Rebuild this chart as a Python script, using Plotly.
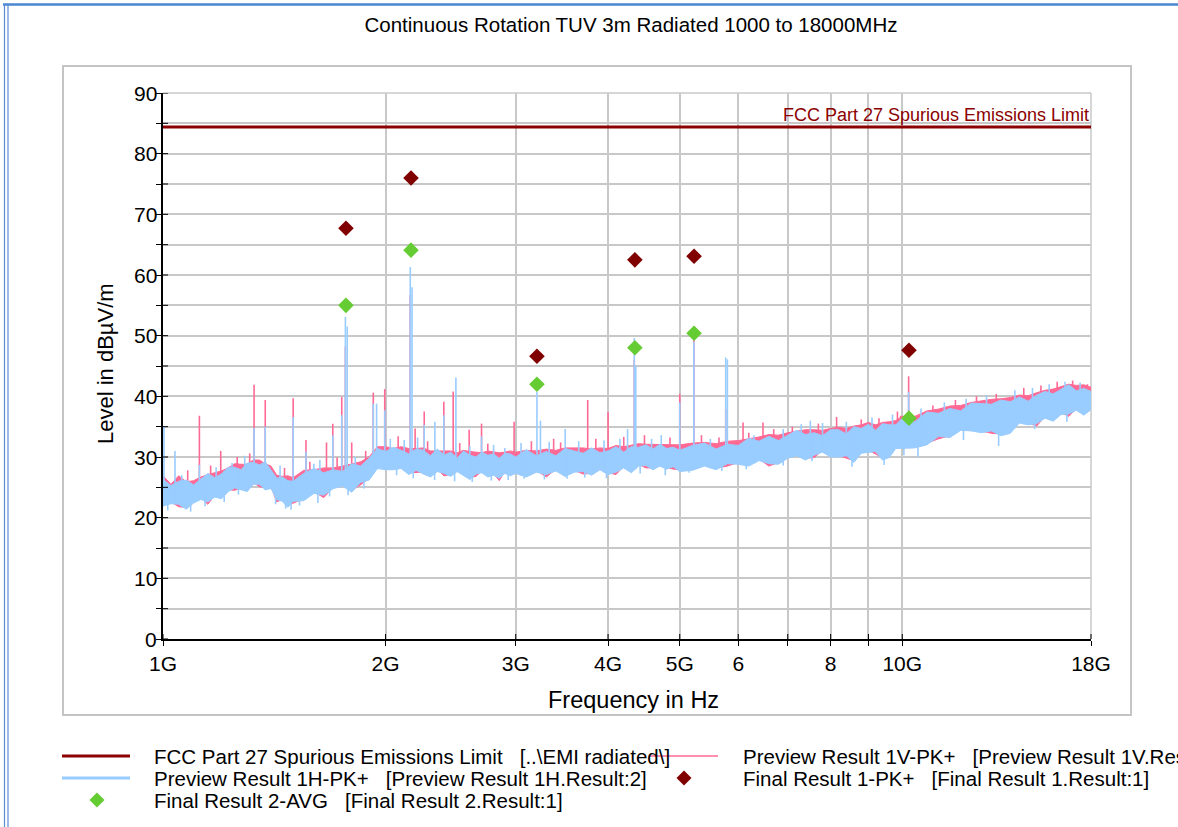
import math
import numpy as np
import plotly.graph_objects as go

# ---------------- data ----------------
# Sweep columns (MHz) for the preview scans
FREQ_MHZ = [
    1000, 1025, 1050, 1075, 1100, 1125, 1150, 1175, 1200, 1225, 1250, 1275, 1300, 1325, 1350, 1375, 1400, 1425, 1450, 1475, 1500,
    1550, 1600, 1650, 1700, 1750, 1800, 1850, 1900, 1950, 2000,
    2050, 2100, 2150, 2200, 2250, 2300, 2350, 2400, 2450, 2500, 2550, 2600, 2650, 2700, 2750, 2800, 2850, 2900, 2950, 3000,
    3100, 3200, 3300, 3400, 3500, 3600, 3700, 3800, 3900, 4000, 4100, 4200, 4300, 4400, 4500, 4600, 4700, 4800, 4900, 5000,
    5200, 5400, 5600, 5800, 6000, 6200, 6400, 6600, 6800, 7000, 7200, 7400, 7600, 7800, 8000, 8200, 8400, 8600, 8800, 9000, 9200, 9400, 9600, 9800, 10000,
    10400, 10800, 11200, 11600, 12000, 12400, 12800, 13200, 13600, 14000, 14400, 14800, 15200, 15600, 16000, 16400, 16800, 17200, 17600, 18000,
]

# Preview Result 1H-PK+ : per-column max / min level (dBuV/m)
H_HI = [
    26.3, 25.3, 26.0, 26.2, 25.4, 26.3, 27.3, 26.6, 27.2, 28.3, 28.3, 27.9, 29.0, 29.1, 28.7, 29.2, 27.8, 26.5, 26.7, 26.1, 26.0,
    27.3, 28.1, 27.4, 27.9, 27.6, 28.9, 28.5, 29.8, 31.4, 30.9,
    31.6, 31.1, 30.5, 31.3, 31.1, 30.2, 31.3, 30.3, 30.8, 29.8, 31.0, 30.3, 30.0, 30.8, 30.3, 30.5, 29.8, 30.6, 30.5, 30.0,
    31.2, 30.2, 30.9, 30.2, 31.4, 31.0, 30.6, 31.5, 30.7, 31.0, 31.7, 30.8, 31.7, 31.6, 32.0, 31.3, 32.1, 31.4, 31.6, 31.1,
    31.9, 32.3, 31.3, 32.1, 31.9, 33.1, 32.6, 33.4, 32.7, 33.6, 34.4, 33.7, 34.0, 33.5, 34.5, 34.5, 33.8, 35.0, 34.7, 35.4, 34.4, 35.5, 35.3, 35.3, 36.4,
    35.8, 37.4, 37.2, 38.0, 37.6, 38.9, 38.8, 38.7, 39.4, 39.1, 39.9, 39.2, 40.2, 40.8, 40.4, 41.1, 41.9, 40.9, 41.3, 40.8,
]
H_LO = [
    21.9, 22.3, 22.2, 21.4, 22.4, 23.0, 22.6, 23.4, 23.1, 24.3, 24.9, 24.6, 24.3, 25.5, 25.5, 24.6, 24.8, 23.0, 22.7, 21.7, 22.7,
    22.8, 24.0, 23.7, 24.8, 25.2, 24.2, 25.8, 26.2, 28.1, 27.9,
    27.9, 28.1, 27.1, 27.8, 27.2, 26.7, 27.6, 27.3, 26.8, 27.6, 26.9, 26.3, 27.2, 27.4, 26.7, 27.0, 26.5, 27.3, 26.9, 27.3,
    26.7, 27.5, 27.1, 27.7, 26.8, 27.5, 27.6, 27.0, 27.9, 27.1, 27.5, 28.2, 27.4, 28.5, 28.6, 27.9, 28.5, 28.0, 28.4, 27.6,
    27.8, 28.5, 27.9, 28.9, 28.8, 28.5, 29.4, 28.9, 28.8, 29.8, 30.2, 29.5, 30.3, 30.8, 30.0, 30.0, 30.2, 29.1, 30.6, 30.8, 30.9, 29.5, 29.9, 31.4, 31.5,
    31.5, 32.0, 33.4, 33.2, 34.4, 34.3, 34.0, 34.3, 33.5, 33.9, 35.6, 35.3, 35.5, 36.4, 35.9, 37.0, 37.1, 37.7, 36.9, 37.8,
]

# Preview Result 1V-PK+ : per-column max / min level (dBuV/m)
V_HI = [
    26.9, 25.5, 26.9, 25.9, 26.1, 26.7, 27.1, 27.4, 27.7, 28.2, 28.9, 28.8, 28.8, 29.5, 29.5, 28.9, 28.5, 27.0, 26.8, 26.9, 26.6,
    27.8, 27.9, 28.2, 28.2, 28.5, 28.8, 29.2, 30.0, 31.7, 31.7,
    31.4, 31.7, 31.4, 31.4, 31.5, 31.0, 31.0, 31.0, 31.0, 30.7, 31.1, 30.9, 30.8, 30.7, 31.0, 30.8, 30.7, 30.8, 31.0, 30.8,
    31.1, 31.0, 31.3, 31.1, 31.5, 31.5, 31.5, 31.3, 31.5, 31.4, 31.9, 31.7, 32.0, 32.2, 32.1, 32.1, 32.0, 32.1, 32.0, 32.0,
    32.3, 32.4, 32.2, 32.6, 32.7, 33.0, 33.3, 33.7, 33.6, 34.0, 34.2, 34.5, 34.5, 34.4, 34.7, 34.9, 34.7, 35.1, 35.3, 35.7, 35.3, 35.7, 35.8, 36.0, 36.7,
    36.7, 37.6, 37.9, 38.4, 38.5, 39.0, 39.3, 39.5, 39.6, 39.8, 40.2, 40.1, 40.6, 41.0, 41.2, 41.6, 42.0, 41.8, 41.9, 41.5,
]
V_LO = [
    22.2, 22.6, 21.8, 21.7, 22.7, 23.3, 22.2, 23.7, 23.4, 24.6, 24.5, 24.9, 24.6, 25.8, 25.1, 24.9, 25.1, 22.6, 23.0, 22.0, 22.4,
    23.1, 24.3, 23.3, 25.1, 25.5, 24.5, 25.4, 26.5, 28.4, 28.2,
    28.2, 28.4, 27.4, 27.4, 27.5, 27.0, 27.9, 26.9, 27.1, 27.9, 27.2, 26.6, 26.8, 27.7, 27.0, 27.3, 26.1, 27.6, 27.2, 27.6,
    27.0, 27.8, 26.7, 28.0, 27.1, 27.8, 27.2, 27.3, 28.2, 27.4, 27.1, 28.5, 27.7, 28.8, 28.2, 28.2, 28.8, 28.3, 28.0, 27.9,
    28.1, 28.8, 28.2, 28.5, 29.1, 28.8, 29.7, 28.5, 29.1, 30.1, 30.5, 29.8, 29.9, 31.1, 30.3, 30.3, 29.8, 29.4, 30.9, 31.1, 30.5, 29.8, 30.2, 31.7, 31.8,
    31.8, 32.3, 33.0, 33.5, 34.7, 34.6, 34.3, 33.9, 33.8, 34.2, 35.9, 35.6, 35.1, 36.7, 36.2, 37.3, 36.7, 38.0, 37.2, 38.1,
]

# Narrow emissions rising out of the noise floor
H_SPIKE_MHZ = [1003, 1038, 1120, 1328, 1375, 1500, 1561, 1697, 1745, 1765, 1775, 1925, 1945, 1995, 2160, 2172, 2256,
               2332, 2398, 2490, 2697, 3205, 3240, 3500, 4250, 4340, 4360, 5000, 5225, 5770, 5800, 7510, 10200,
               1060, 1180, 1240, 1290, 1440, 1600, 1630, 1820, 2030, 2120, 2210, 2600, 2800, 2900, 3050, 3330,
               3650, 3950, 4150, 4580, 4720, 5500, 6300, 6900, 7300, 7800, 8400, 9100, 9700, 10600, 11400, 12200,
               13000, 14200, 15000, 15800, 16600, 17400]
H_SPIKE_DB = [35.0, 31.0, 28.7, 34.8, 35.0, 36.6, 30.9, 33.6, 36.9, 53.1, 51.5, 38.8, 38.8, 37.7, 61.3, 58.0, 35.3,
              35.8, 36.9, 43.1, 33.4, 40.7, 36.0, 34.6, 34.6, 49.6, 45.0, 39.0, 49.0, 46.4, 46.1, 36.0, 40.7,
              27.0, 28.3, 29.0, 30.2, 28.6, 28.9, 29.5, 30.0, 33.0, 32.8, 33.2, 31.8, 32.0, 31.5, 32.3, 32.5,
              32.6, 32.7, 33.0, 33.0, 33.6, 33.0, 33.6, 34.6, 35.4, 35.6, 35.8, 36.5, 37.0, 38.0, 39.0, 39.6,
              40.2, 41.0, 41.4, 42.0, 42.4, 42.3]
V_SPIKE_MHZ = [1120, 1197, 1328, 1375, 1500, 1561, 1664, 1697, 1745, 1765, 1800, 1925, 1995, 2160, 2193, 2256, 2398,
               2469, 2595, 2697, 2985, 3376, 3754, 4000, 4340, 4352, 5000, 5225, 5770, 6090, 6480, 8150, 8500, 9950, 10200,
               1080, 1160, 1260, 1310, 1460, 1580, 1720, 1880, 2080, 2280, 2520, 2750, 3150, 3450, 3850, 4200,
               4480, 4850, 5350, 5650, 6200, 6700, 7100, 7700, 8800, 9300, 9850, 11000, 11800, 12600, 13400, 14600,
               15400, 16200, 17000, 17800]
V_SPIKE_DB = [36.8, 31.0, 41.9, 39.4, 39.7, 32.8, 32.4, 35.5, 39.9, 48.2, 32.4, 40.6, 41.2, 56.7, 34.7, 37.5, 39.1,
              40.8, 34.5, 35.5, 35.8, 33.0, 39.4, 37.4, 46.0, 37.1, 40.4, 51.5, 37.9, 35.7, 35.7, 36.6, 34.8, 36.8, 43.3,
              27.8, 28.6, 30.0, 30.6, 28.2, 29.2, 29.9, 31.0, 33.4, 32.6, 32.3, 32.2, 32.6, 32.4, 33.0, 33.3,
              33.6, 33.2, 33.6, 33.2, 34.0, 34.6, 35.0, 35.5, 36.2, 36.4, 37.5, 38.5, 39.4, 40.0, 40.4, 41.4,
              41.8, 42.4, 42.6, 42.0]

# Momentary drops below the noise floor (1H scan)
H_DIP_MHZ = [1015, 1090, 1140, 1210, 1265, 1420, 1465, 1490, 1530, 1620, 1680, 1780, 1870, 2070, 2180, 2330, 2480, 2620,
             2780, 2930, 3080, 3280, 3520, 3720, 3980, 4420, 4780, 5150, 5700, 6150, 6900, 7550, 8550, 9450, 10050,
             10500, 12100, 13500, 15100, 16700]
H_DIP_DB = [21.2, 21.0, 21.9, 22.6, 23.8, 22.2, 21.5, 21.3, 22.0, 22.4, 23.5, 23.7, 24.8, 27.0, 26.5, 26.2, 26.0, 25.9,
            26.1, 26.2, 26.4, 26.3, 26.4, 26.6, 26.5, 27.3, 27.0, 27.4, 27.7, 28.0, 28.6, 29.3, 28.4, 28.7, 30.3,
            30.0, 32.8, 31.8, 34.6, 35.8]

# Final measurements
FINAL_MHZ = [1768, 2165, 3205, 4348, 5228, 10210]
FINAL_PK = [67.7, 76.0, 46.6, 62.5, 63.1, 47.6]
FINAL_AVG = [55.0, 64.1, 42.0, 48.0, 50.4, 36.4]

# Limit
LIMIT_MHZ = [1000, 18000]
LIMIT_DB = [84.4, 84.4]

# Axis ticks
X_TICKS = [1000, 2000, 3000, 4000, 5000, 6000, 7000, 8000, 9000, 10000, 18000]
X_TICKTEXT = ["1G", "2G", "3G", "4G", "5G", "6", "", "8", "", "10G", "18G"]

for a, b in ((FREQ_MHZ, H_HI), (FREQ_MHZ, H_LO), (FREQ_MHZ, V_HI), (FREQ_MHZ, V_LO),
             (H_SPIKE_MHZ, H_SPIKE_DB), (V_SPIKE_MHZ, V_SPIKE_DB), (H_DIP_MHZ, H_DIP_DB)):
    assert len(a) == len(b), (len(a), len(b))

# ---------------- styles ----------------
DARK_RED = "#8B0000"
PK_RED = "#800000"
GREEN = "#66CC33"
PINK = "#FF6A95"
BLUE = "#99CCFF"
GRID = "#C8C8C8"
FONT = "Liberation Sans, Arial, Helvetica, sans-serif"

W, H = 1178, 827
ML, MR, MT, MB = 163, 87, 93, 188
PW, PH = W - ML - MR, H - MT - MB


def px_x(px):
    return (px - ML) / PW


def px_y(py):
    return (H - MB - py) / PH


def band(freq, lo, hi):
    xs = list(freq) + list(freq)[::-1]
    ys = list(hi) + list(lo)[::-1]
    return xs, ys


def strokes(freq, tip, col_f, col_edge):
    """Vertical strokes from the band edge (at each stroke's frequency) to its tip level."""
    base = np.interp(np.log10(freq), np.log10(col_f), col_edge)
    xs, ys = [], []
    for f, t, b in zip(freq, tip, base):
        xs += [f, f, None]
        ys += [float(b), t, None]
    return xs, ys


fig = go.Figure()

fig.add_trace(go.Scatter(x=LIMIT_MHZ, y=LIMIT_DB, mode="lines",
                         line=dict(color=DARK_RED, width=3), hoverinfo="skip", showlegend=False))

vx, vy = band(FREQ_MHZ, V_LO, V_HI)
fig.add_trace(go.Scatter(x=vx, y=vy, mode="lines", fill="toself", fillcolor=PINK,
                         line=dict(color=PINK, width=1), hoverinfo="skip", showlegend=False))
sx, sy = strokes(V_SPIKE_MHZ, V_SPIKE_DB, FREQ_MHZ, V_LO)
fig.add_trace(go.Scatter(x=sx, y=sy, mode="lines", line=dict(color=PINK, width=1.6),
                         hoverinfo="skip", showlegend=False))

hx, hy = band(FREQ_MHZ, H_LO, H_HI)
fig.add_trace(go.Scatter(x=hx, y=hy, mode="lines", fill="toself", fillcolor=BLUE,
                         line=dict(color=BLUE, width=1), hoverinfo="skip", showlegend=False))
sx, sy = strokes(H_SPIKE_MHZ, H_SPIKE_DB, FREQ_MHZ, H_LO)
dx, dy = strokes(H_DIP_MHZ, H_DIP_DB, FREQ_MHZ, H_HI)
fig.add_trace(go.Scatter(x=sx + dx, y=sy + dy, mode="lines", line=dict(color=BLUE, width=1.6),
                         hoverinfo="skip", showlegend=False))

fig.add_trace(go.Scatter(x=FINAL_MHZ, y=FINAL_PK, mode="markers",
                         marker=dict(symbol="diamond", size=12, color=PK_RED),
                         hoverinfo="skip", showlegend=False))
fig.add_trace(go.Scatter(x=FINAL_MHZ, y=FINAL_AVG, mode="markers",
                         marker=dict(symbol="diamond", size=12, color=GREEN),
                         hoverinfo="skip", showlegend=False))

shapes = []
annotations = []

# closing grid lines at the top and right of the plot area
shapes.append(dict(type="line", xref="paper", yref="paper", x0=0, x1=1, y0=1, y1=1,
                   line=dict(color=GRID, width=1.5), layer="below"))
shapes.append(dict(type="line", xref="paper", yref="paper", x0=1, x1=1, y0=0, y1=1,
                   line=dict(color=GRID, width=1.5), layer="below"))

# tick marks crossing into the plot area
for v in range(0, 91, 5):
    shapes.append(dict(type="line", xref="paper", yref="y", x0=0, x1=5 / PW, y0=v, y1=v,
                       line=dict(color="black", width=1)))
for f in X_TICKS:
    p = (math.log10(f) - 3) / math.log10(18)
    shapes.append(dict(type="line", xref="paper", yref="paper", x0=p, x1=p, y0=0, y1=5 / PH,
                       line=dict(color="black", width=1)))

# outer chart frame
shapes.append(dict(type="rect", xref="paper", yref="paper",
                   x0=px_x(63), x1=px_x(1131), y0=px_y(715), y1=px_y(66),
                   line=dict(color="#C4C4C4", width=2)))
# window border
shapes.append(dict(type="line", xref="paper", yref="paper", x0=px_x(3), x1=px_x(1178),
                   y0=px_y(4.5), y1=px_y(4.5), line=dict(color="#4A86D2", width=2.5)))
for bx in (4.5, 8):
    shapes.append(dict(type="line", xref="paper", yref="paper", x0=px_x(bx), x1=px_x(bx),
                       y0=px_y(4), y1=px_y(827), line=dict(color="#5A8CD4", width=1.2)))

# limit label
annotations.append(dict(xref="paper", yref="y", x=1, y=LIMIT_DB[0], xanchor="right", yanchor="bottom",
                        yshift=0, showarrow=False, text="FCC Part 27 Spurious Emissions Limit",
                        font=dict(family=FONT, size=18, color=DARK_RED)))

# axis titles
annotations.append(dict(xref="paper", yref="paper", x=px_x(633), y=px_y(700), xanchor="center",
                        yanchor="middle", showarrow=False, text="Frequency in Hz",
                        font=dict(family=FONT, size=23.5, color="black")))
annotations.append(dict(xref="paper", yref="paper", x=px_x(105), y=px_y(364), xanchor="center",
                        yanchor="middle", showarrow=False, text="Level in dBµV/m", textangle=-90,
                        font=dict(family=FONT, size=22, color="black")))

# y tick labels, set right against the axis ticks
for v in range(0, 91, 10):
    annotations.append(dict(xref="paper", yref="y", x=px_x(159), y=v, xanchor="right", yanchor="middle",
                            showarrow=False, text=str(v), font=dict(family=FONT, size=21, color="black")))

# legend block
SP = "\u00a0\u00a0\u00a0"
legend_rows = [
    ("line", DARK_RED, 3, 62, 130, 756, 152,
     "FCC Part 27 Spurious Emissions Limit" + SP + "[..\\EMI radiated\\]"),
    ("line", PINK, 1.5, 650, 718, 756, 741,
     "Preview Result 1V-PK+" + SP + "[Preview Result 1V.Result:2]"),
    ("line", BLUE, 3, 62, 130, 778, 152,
     "Preview Result 1H-PK+" + SP + "[Preview Result 1H.Result:2]"),
    ("diamond", PK_RED, 0, 684, 684, 778, 741,
     "Final Result 1-PK+" + SP + "[Final Result 1.Result:1]"),
    ("diamond", GREEN, 0, 97, 97, 800, 152,
     "Final Result 2-AVG" + SP + "[Final Result 2.Result:1]"),
]
for kind, color, lw, xa, xb, yy, tx, label in legend_rows:
    if kind == "line":
        shapes.append(dict(type="line", xref="paper", yref="paper", x0=px_x(xa), x1=px_x(xb),
                           y0=px_y(yy), y1=px_y(yy), line=dict(color=color, width=lw)))
    else:
        shapes.append(dict(type="path", xref="paper", yref="paper", xsizemode="pixel", ysizemode="pixel",
                           xanchor=px_x(xa), yanchor=px_y(yy),
                           path="M 0 7.5 L 7.5 0 L 0 -7.5 L -7.5 0 Z",
                           fillcolor=color, line=dict(color=color, width=0)))
    annotations.append(dict(xref="paper", yref="paper", x=px_x(tx), y=px_y(yy), xanchor="left",
                            yanchor="middle", showarrow=False, text=label,
                            font=dict(family=FONT, size=20.5, color="black")))

fig.update_layout(
    width=W, height=H,
    margin=dict(l=ML, r=MR, t=MT, b=MB),
    paper_bgcolor="white", plot_bgcolor="white",
    showlegend=False,
    title=dict(text="Continuous Rotation TUV 3m Radiated 1000 to 18000MHz",
               x=631 / W, xanchor="center", y=1 - 25 / H, yanchor="middle",
               font=dict(family=FONT, size=20.5, color="black")),
    xaxis=dict(type="log", range=[3, math.log10(18000)], tickvals=X_TICKS, ticktext=X_TICKTEXT,
               showgrid=True, gridcolor=GRID, gridwidth=1.5, zeroline=False,
               showline=True, linecolor="black", linewidth=1.5,
               ticks="outside", ticklen=5, tickcolor="black", tickwidth=1,
               tickfont=dict(family=FONT, size=21, color="black")),
    yaxis=dict(range=[0, 90], tick0=0, dtick=10, showticklabels=False,
               showgrid=True, gridcolor=GRID, gridwidth=1.5, zeroline=False,
               showline=True, linecolor="black", linewidth=1.5,
               ticks="outside", ticklen=5, tickcolor="black", tickwidth=1,
               minor=dict(dtick=5, showgrid=True, gridcolor=GRID, gridwidth=1.5,
                          ticks="outside", ticklen=5, tickcolor="black")),
    shapes=shapes,
    annotations=annotations,
)

fig.write_html("out.html")
